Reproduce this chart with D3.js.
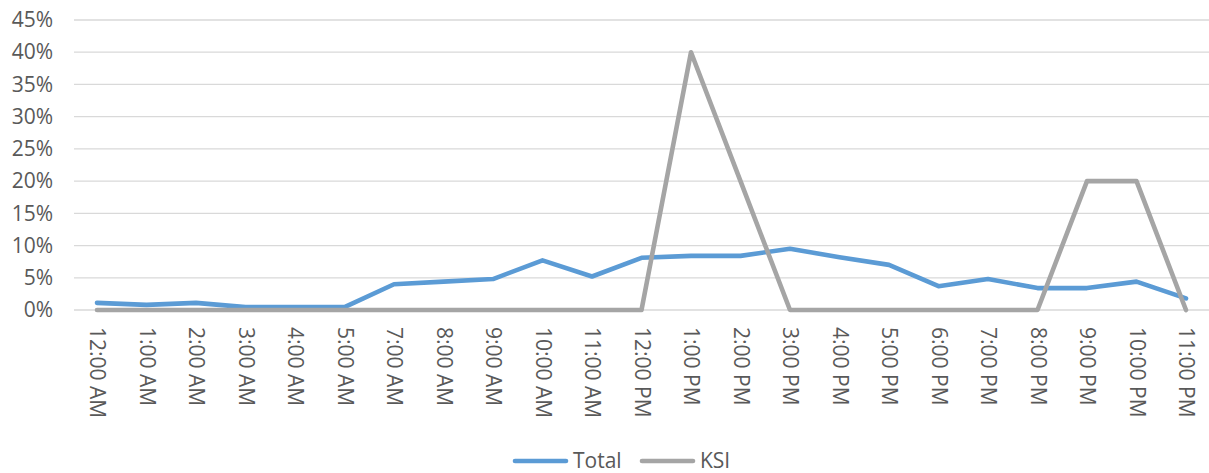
<!DOCTYPE html>
<html>
<head>
<meta charset="utf-8">
<script src="https://cdn.jsdelivr.net/npm/d3@7"></script>
<style>
  html, body { margin: 0; padding: 0; background: #fff; }
  svg { display: block; font-family: "Open Sans", sans-serif; }
</style>
</head>
<body>
<svg id="chart" width="1209" height="473"></svg>
<script>
const categories = ["12:00 AM","1:00 AM","2:00 AM","3:00 AM","4:00 AM","5:00 AM","7:00 AM","8:00 AM","9:00 AM","10:00 AM","11:00 AM","12:00 PM","1:00 PM","2:00 PM","3:00 PM","4:00 PM","5:00 PM","6:00 PM","7:00 PM","8:00 PM","9:00 PM","10:00 PM","11:00 PM"];
const totalValues = [0.011,0.008,0.011,0.0045,0.0045,0.0045,0.040,0.044,0.048,0.077,0.052,0.081,0.084,0.084,0.095,0.082,0.070,0.037,0.048,0.034,0.034,0.044,0.018];
const ksiValues = [0,0,0,0,0,0,0,0,0,0,0,0,0.40,0.20,0,0,0,0,0,0,0.20,0.20,0];
const yTicks = [0,0.05,0.10,0.15,0.20,0.25,0.30,0.35,0.40,0.45];
const seriesNames = ["Total","KSI"];
const seriesColors = ["#5B9BD5","#A5A5A5"];

const svg = d3.select("#chart");
const x = d3.scalePoint().domain(categories).range([97, 1186]);
const y = d3.scaleLinear().domain([0, 0.45]).range([310, 20]);
const textColor = "#595959";
const fs = 21;

// gridlines
svg.append("g").selectAll("line").data(yTicks).join("line")
  .attr("x1", 74).attr("x2", 1209)
  .attr("y1", d => y(d)).attr("y2", d => y(d))
  .attr("stroke", "#D9D9D9").attr("stroke-width", 1.3);

// y axis labels
const yAxis = d3.axisLeft(y).tickValues(yTicks).tickFormat(d3.format(".0%")).tickSize(0).tickPadding(0);
const yg = svg.append("g").attr("transform", "translate(53,0)").call(yAxis);
yg.select(".domain").remove();
yg.selectAll("text").attr("fill", textColor).style("font-size", fs + "px").style("font-family", "'Open Sans', sans-serif");

// x axis labels (rotated)
const xAxis = d3.axisBottom(x).tickSize(0).tickPadding(0);
const xg = svg.append("g").attr("transform", "translate(0,327)").call(xAxis);
xg.select(".domain").remove();
xg.selectAll("text")
  .attr("fill", textColor).style("font-size", fs + "px").style("font-family", "'Open Sans', sans-serif")
  .attr("text-anchor", "start").attr("y", 0).attr("x", 0).attr("dy", "0.35em")
  .attr("transform", "rotate(90)");

// lines
const seriesData = [totalValues, ksiValues];
const line = d3.line().x((d, i) => x(categories[i])).y(d => y(d));
// Draw Total first, KSI on top
seriesData.forEach((vals, si) => {
  svg.append("path").datum(vals)
    .attr("d", line)
    .attr("fill", "none")
    .attr("stroke", seriesColors[si])
    .attr("stroke-width", 4.6)
    .attr("stroke-linejoin", "round")
    .attr("stroke-linecap", "round");
});

// legend
const legendItems = [{name: seriesNames[0], color: seriesColors[0], x: 515}, {name: seriesNames[1], color: seriesColors[1], x: 642}];
const lg = svg.append("g");
legendItems.forEach(it => {
  lg.append("line").attr("x1", it.x).attr("x2", it.x + 51).attr("y1", 461).attr("y2", 461)
    .attr("stroke", it.color).attr("stroke-width", 4.6).attr("stroke-linecap", "round");
  lg.append("text").attr("x", it.x + 58).attr("y", 461).attr("dy", "0.35em")
    .attr("fill", textColor).style("font-size", fs + "px").text(it.name);
});
</script>
</body>
</html>
